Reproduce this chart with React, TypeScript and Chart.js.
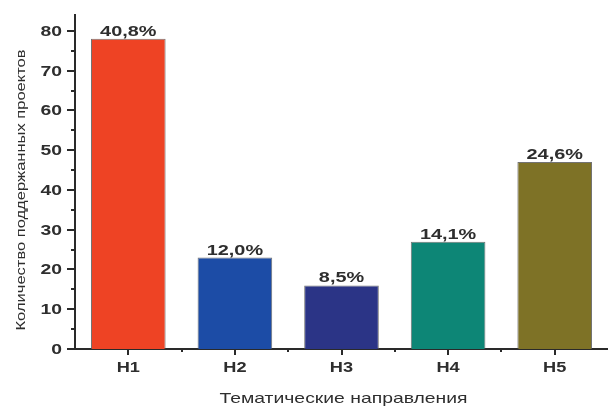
import React, { useEffect, useRef } from "react";
import { Chart, registerables } from "chart.js";

Chart.register(...registerables);

const categories = ["H1", "H2", "H3", "H4", "H5"];
const projectCounts = [78, 23, 16, 27, 47];
const percentLabels = ["40,8%", "12,0%", "8,5%", "14,1%", "24,6%"];
const barColors = ["#EE4324", "#1C4CA6", "#2B3486", "#0D8676", "#7E7226"];
const yTickValues = [0, 10, 20, 30, 40, 50, 60, 70, 80];
const yMinorValues = [5, 15, 25, 35, 45, 55, 65, 75];
const yTitle = "Количество поддержанных проектов";
const xTitle = "Тематические направления";

const AXIS = "#2a2a2a";
const TEXT = "#2e2e2e";
const FONT = "'Liberation Sans', Arial, sans-serif";
const STRETCH = 1.38;

function stretchedText(
  ctx: CanvasRenderingContext2D,
  text: string,
  x: number,
  y: number,
  align: CanvasTextAlign,
  sx: number
) {
  ctx.save();
  ctx.translate(x, y);
  ctx.scale(sx, 1);
  ctx.textAlign = align;
  ctx.textBaseline = "alphabetic";
  ctx.fillText(text, 0, 0);
  ctx.restore();
}

const extrasPlugin = {
  id: "extras",
  afterDraw(chart: any) {
    const ctx: CanvasRenderingContext2D = chart.ctx;
    const xs = chart.scales.x;
    const ys = chart.scales.y;
    const meta = chart.getDatasetMeta(0);
    const left = xs.left;
    const bottom = ys.bottom;
    ctx.save();
    ctx.strokeStyle = AXIS;
    ctx.lineWidth = 2;
    ctx.lineCap = "butt";
    // y ticks
    yTickValues.forEach((v) => {
      const y = Math.round(ys.getPixelForValue(v));
      ctx.beginPath();
      ctx.moveTo(left - 8, y);
      ctx.lineTo(left, y);
      ctx.stroke();
    });
    yMinorValues.forEach((v) => {
      const y = Math.round(ys.getPixelForValue(v));
      ctx.beginPath();
      ctx.moveTo(left - 4, y);
      ctx.lineTo(left, y);
      ctx.stroke();
    });
    // x ticks
    categories.forEach((_, i) => {
      const x = Math.round(xs.getPixelForValue(i));
      ctx.beginPath();
      ctx.moveTo(x, bottom);
      ctx.lineTo(x, bottom + 6);
      ctx.stroke();
      if (i < categories.length - 1) {
        const xm = Math.round((xs.getPixelForValue(i) + xs.getPixelForValue(i + 1)) / 2);
        ctx.beginPath();
        ctx.moveTo(xm, bottom);
        ctx.lineTo(xm, bottom + 3);
        ctx.stroke();
      }
    });

    ctx.fillStyle = TEXT;
    // y tick labels
    ctx.font = `bold 14px ${FONT}`;
    yTickValues.forEach((v) => {
      const y = ys.getPixelForValue(v);
      stretchedText(ctx, String(v), left - 13, y + 5, "right", STRETCH);
    });
    // x tick labels
    categories.forEach((c, i) => {
      stretchedText(ctx, c, xs.getPixelForValue(i), bottom + 23, "center", 1.3);
    });
    // value labels
    meta.data.forEach((bar: any, i: number) => {
      stretchedText(ctx, percentLabels[i], bar.x, bar.y - 3, "center", 1.42);
    });
    // x title
    ctx.font = `15px ${FONT}`;
    stretchedText(ctx, xTitle, (xs.left + xs.right) / 2 + 2, bottom + 54, "center", 1.29);
    // y title (rotated)
    ctx.font = `13px ${FONT}`;
    ctx.save();
    ctx.translate(25, (ys.top + ys.bottom) / 2 + 8);
    ctx.rotate(-Math.PI / 2);
    ctx.scale(1.27, 1);
    ctx.textAlign = "center";
    ctx.textBaseline = "alphabetic";
    ctx.fillText(yTitle, 0, 0);
    ctx.restore();
    ctx.restore();
  },
};

export default function App() {
  const ref = useRef<HTMLCanvasElement | null>(null);
  useEffect(() => {
    document.body.style.margin = "0";
    const chart = new Chart(ref.current as HTMLCanvasElement, {
      type: "bar",
      data: {
        labels: categories,
        datasets: [
          {
            data: projectCounts,
            backgroundColor: barColors,
            borderColor: "rgba(90,90,90,0.85)",
            borderWidth: 1,
            barPercentage: 0.7,
            categoryPercentage: 1,
          },
        ],
      },
      options: {
        responsive: false,
        animation: false,
        layout: { padding: { left: 0, top: 15, right: 0, bottom: 0 } },
        plugins: { legend: { display: false }, tooltip: { enabled: false } },
        scales: {
          x: {
            offset: true,
            grid: { display: false },
            border: { color: AXIS, width: 2 },
            ticks: { display: false },
            afterFit(scale: any) {
              scale.height = 58;
            },
          },
          y: {
            min: 0,
            max: 84,
            ticks: { display: false },
            afterBuildTicks(scale: any) {
              scale.ticks = yTickValues.map((v) => ({ value: v }));
            },
            grid: { display: false },
            border: { color: AXIS, width: 2 },
            afterFit(scale: any) {
              scale.width = 75;
            },
          },
        },
      },
      plugins: [extrasPlugin],
    } as any);
    return () => chart.destroy();
  }, []);
  return (
    <div style={{ width: 608, height: 407 }}>
      <canvas ref={ref} width={608} height={407} />
    </div>
  );
}
